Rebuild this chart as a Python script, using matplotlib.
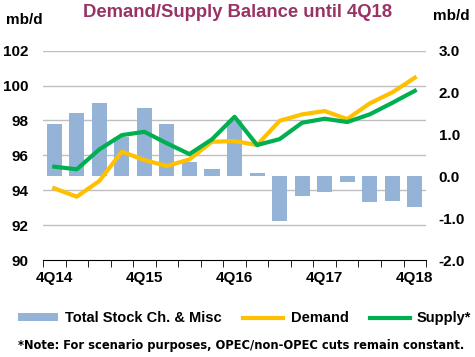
import matplotlib.pyplot as plt
import numpy as np

quarters = ["4Q14", "1Q15", "2Q15", "3Q15", "4Q15", "1Q16", "2Q16", "3Q16", "4Q16",
            "1Q17", "2Q17", "3Q17", "4Q17", "1Q18", "2Q18", "3Q18", "4Q18"]
stock_change = [1.26, 1.52, 1.76, 0.95, 1.64, 1.24, 0.33, 0.17, 1.35,
                0.08, -1.07, -0.48, -0.37, -0.14, -0.62, -0.58, -0.74]
demand = [94.11, 93.63, 94.53, 96.21, 95.73, 95.39, 95.77, 96.78, 96.82,
          96.59, 97.98, 98.35, 98.54, 98.08, 98.98, 99.61, 100.45]
supply = [95.35, 95.20, 96.34, 97.16, 97.35, 96.69, 96.07, 96.92, 98.21,
          96.59, 96.93, 97.87, 98.10, 97.91, 98.35, 99.01, 99.70]

plt.rcParams['font.family'] = ['Liberation Sans', 'DejaVu Sans']

fig = plt.figure(figsize=(4.75, 3.57), dpi=100)
ax = fig.add_axes([0.0905, 0.2717, 0.8065, 0.5863])
ax2 = ax.twinx()

x = np.arange(len(quarters))

# bars on the right axis, drawn behind the lines
ax2.bar(x, stock_change, width=0.67, color="#95B3D7", zorder=1,
        label="Total Stock Ch. & Misc")
ax2.set_ylim(-2, 3)
ax2.set_yticks(np.arange(-2, 3.1, 1))
ax2.set_yticklabels([f"{v:.1f}" for v in np.arange(-2, 3.1, 1)])

ax.set_zorder(ax2.get_zorder() + 1)
ax.patch.set_visible(False)
l1, = ax.plot(x, demand, color="#FFC000", lw=3, label="Demand")
l2, = ax.plot(x, supply, color="#00B050", lw=3, label="Supply*")
ax.set_ylim(90, 102)
ax.set_xlim(-0.5, len(quarters) - 0.5)
ax.set_yticks(np.arange(90, 103, 2))

# gridlines (drawn on the bar axis so they sit under the bars)
for g in range(92, 103, 2):
    ax2.axhline(-2 + (g - 90) * 5 / 12, color="#BFBFBF", lw=1, zorder=0)

ax.set_xticks(x[::4])
ax.set_xticklabels(quarters[::4])
ax.set_xticks(np.arange(-0.5, len(quarters), 1), minor=True)
ax.tick_params(axis="x", which="major", length=0, pad=8)
ax.tick_params(axis="x", which="minor", length=5, direction="out", color="black")
ax.tick_params(axis="y", length=0, pad=10.5)
ax2.tick_params(axis="y", length=0, pad=9)

for a in (ax, ax2):
    for s in ("left", "right", "top"):
        a.spines[s].set_visible(False)
    for lab in a.get_xticklabels() + a.get_yticklabels():
        lab.set_fontweight("bold")
        lab.set_fontsize(11)
ax2.spines["bottom"].set_visible(False)
ax.spines["bottom"].set_color("black")

fig.text(0.5, 0.965, "Demand/Supply Balance until 4Q18", ha="center", va="center",
         color="#993366", fontsize=13.3, fontweight="bold")
fig.text(0.012, 0.945, "mb/d", ha="left", va="center", fontsize=11, fontweight="bold")
fig.text(0.988, 0.955, "mb/d", ha="right", va="center", fontsize=11, fontweight="bold")

handles = [ax2.containers[0], l1, l2]
leg = fig.legend(handles, [h.get_label() for h in handles], loc="center",
                 bbox_to_anchor=(0.515, 0.108), ncol=3, frameon=False,
                 prop={"size": 10.5, "weight": "bold"}, handlelength=2.75,
                 handleheight=0.45, columnspacing=1.45, handletextpad=0.5)

fig.text(0.508, 0.033, "*Note: For scenario purposes, OPEC/non-OPEC cuts remain constant.",
         ha="center", va="center", fontsize=8.3, fontweight="bold", family="DejaVu Sans")

fig.savefig("out.png", dpi=100)
